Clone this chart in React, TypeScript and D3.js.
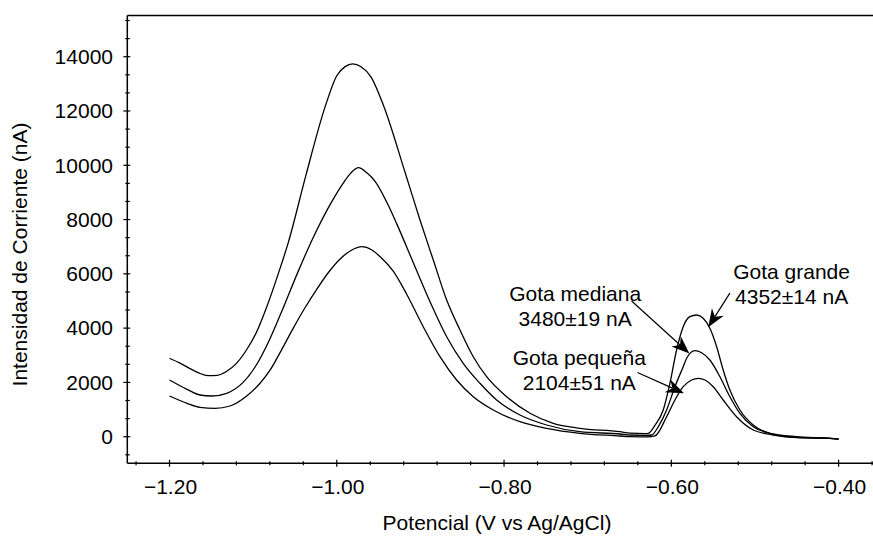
import React, { useEffect, useRef } from 'react';
import * as d3 from 'd3';

// Gota grande
const potGrande = [-1.2, -1.188, -1.176, -1.165, -1.154, -1.143, -1.132, -1.12, -1.108, -1.096, -1.084, -1.07, -1.058, -1.037, -1.014, -1.0, -0.99, -0.981, -0.971, -0.959, -0.9436, -0.918, -0.9005, -0.8846, -0.8686, -0.8527, -0.8368, -0.8208, -0.7969, -0.769, -0.7412, -0.7093, -0.6614, -0.6494, -0.6315, -0.6276, -0.6196, -0.6097, -0.6017, -0.5937, -0.5858, -0.5778, -0.5698, -0.5619, -0.5539, -0.5458, -0.538, -0.53, -0.518, -0.5021, -0.4821, -0.4502, -0.4104, -0.4];
const corrGrande = [2890, 2720, 2520, 2350, 2250, 2260, 2400, 2700, 3194, 3850, 4760, 6000, 7150, 9620, 12150, 13300, 13635, 13732, 13630, 13250, 12159, 9705, 7984, 6510, 5036, 3931, 2947, 2211, 1474, 862, 494, 309, 184, 130, 112, 125, 420, 984, 1967, 3194, 4053, 4421, 4484, 4362, 3994, 3316, 2457, 1721, 984, 431, 125, 0, -59, -90];

// Gota mediana
const potMediana = [-1.2, -1.179, -1.1635, -1.1496, -1.1316, -1.112, -1.096, -1.08, -1.066, -1.046, -1.028, -1.008, -0.991, -0.983, -0.974, -0.964, -0.954, -0.938, -0.9284, -0.9086, -0.8886, -0.8686, -0.8488, -0.8288, -0.8089, -0.781, -0.7491, -0.7093, -0.6614, -0.6494, -0.63, -0.6235, -0.615, -0.6056, -0.5957, -0.5858, -0.5817, -0.5718, -0.5638, -0.5539, -0.5419, -0.53, -0.518, -0.5021, -0.4821, -0.4502, -0.4104, -0.4];
const corrMediana = [2090, 1746, 1536, 1500, 1600, 2000, 2650, 3600, 4600, 6100, 7350, 8550, 9400, 9720, 9912, 9720, 9400, 8500, 7850, 6420, 4980, 3684, 2704, 1967, 1352, 799, 431, 184, 100, 63, 45, 63, 400, 984, 1842, 2579, 2888, 3168, 3095, 2826, 2211, 1474, 862, 368, 125, -22, -59, -90];

// Gota pequeña
const potPequena = [-1.2, -1.179, -1.1635, -1.1456, -1.1277, -1.1077, -1.092, -1.08, -1.066, -1.052, -1.038, -1.024, -1.01, -0.996, -0.983, -0.97, -0.958, -0.9484, -0.9325, -0.9164, -0.8966, -0.8766, -0.8567, -0.8368, -0.8129, -0.781, -0.7491, -0.7093, -0.6614, -0.6494, -0.628, -0.6196, -0.6056, -0.5957, -0.5858, -0.5757, -0.5678, -0.5598, -0.5499, -0.538, -0.522, -0.5021, -0.4782, -0.4502, -0.4104, -0.4];
const corrPequena = [1500, 1230, 1083, 1046, 1131, 1500, 1960, 2440, 3200, 4000, 4750, 5430, 6050, 6550, 6860, 7000, 6880, 6640, 6100, 5250, 4053, 2947, 2089, 1474, 984, 553, 309, 125, 26, 0, -10, 26, 737, 1352, 1842, 2089, 2152, 2089, 1842, 1352, 737, 247, 63, -37, -59, -90];

const xTicks = [-1.2, -1.0, -0.8, -0.6, -0.4];
const yTicks = [0, 2000, 4000, 6000, 8000, 10000, 12000, 14000];

const etiquetas = [
  ['Gota grande', '4352±14 nA'],
  ['Gota mediana', '3480±19 nA'],
  ['Gota pequeña', '2104±51 nA'],
];
const etiquetaPos = [[-0.4562, 5799], [-0.715, 5000], [-0.71, 2642]];
const flechaDesde = [[-0.53, 5287], [-0.6475, 5000], [-0.6405, 2365]];
const flechaHasta = [[-0.5559, 4030], [-0.5784, 3065], [-0.5849, 1599]];

const W = 873;
const H = 544;
const left = 127.3;
const right = 873;
const top = 15.5;
const bottom = 463.3;
const font = 'Liberation Sans, Arial, sans-serif';

export default function App() {
  const ref = useRef<SVGSVGElement>(null);

  useEffect(() => {
    document.body.style.margin = '0';
    const svg = d3.select(ref.current);
    svg.selectAll('*').remove();

    const x = d3.scaleLinear().domain([-1.2, -0.4]).range([169.5, 838.6]);
    const y = d3.scaleLinear().domain([0, 14000]).range([436.7, 56.7]);

    // frame
    svg.append('line').attr('x1', left).attr('x2', right).attr('y1', top).attr('y2', top)
      .attr('stroke', '#000').attr('stroke-width', 1.5);
    svg.append('line').attr('x1', left).attr('x2', left).attr('y1', top).attr('y2', bottom)
      .attr('stroke', '#000').attr('stroke-width', 1.5);
    svg.append('line').attr('x1', left).attr('x2', right).attr('y1', bottom).attr('y2', bottom)
      .attr('stroke', '#000').attr('stroke-width', 1.5);

    // y ticks
    const yStep = 2000 / 3;
    const yMinor = d3.range(-1, 24).map((k) => k * yStep).filter((v) => y(v) > top && y(v) < bottom);
    svg.append('g').selectAll('line').data(yMinor).enter().append('line')
      .attr('x1', (d) => (Math.round(d / yStep) % 3 === 0 ? left - 4 : left - 2))
      .attr('x2', (d) => (Math.round(d / yStep) % 3 === 0 ? left + 3 : left + 2.5))
      .attr('y1', (d) => y(d)).attr('y2', (d) => y(d))
      .attr('stroke', '#000').attr('stroke-width', 1.2);
    svg.append('g').selectAll('text').data(yTicks).enter().append('text')
      .attr('x', 113).attr('y', (d) => y(d)).attr('dy', '0.35em')
      .attr('text-anchor', 'end').attr('font-family', font).attr('font-size', 21)
      .text((d) => String(d));

    // x ticks
    const xMinor = d3.range(-31, -8).map((k) => k * 0.04);
    svg.append('g').selectAll('line').data(xMinor).enter().append('line')
      .attr('x1', (d) => x(d)).attr('x2', (d) => x(d))
      .attr('y1', (d) => (Math.round(d / 0.04) % 5 === 0 ? bottom - 3.5 : bottom - 2))
      .attr('y2', (d) => (Math.round(d / 0.04) % 5 === 0 ? bottom + 3.5 : bottom + 2))
      .attr('stroke', '#000').attr('stroke-width', 1.2);
    svg.append('g').selectAll('text').data(xTicks).enter().append('text')
      .attr('x', (d) => x(d) + 1).attr('y', 493.5)
      .attr('text-anchor', 'middle').attr('font-family', font).attr('font-size', 21)
      .text((d) => d3.format('.2f')(d));

    // axis titles
    svg.append('text').attr('x', 497).attr('y', 530).attr('text-anchor', 'middle')
      .attr('font-family', font).attr('font-size', 21).text('Potencial (V vs Ag/AgCl)');
    svg.append('text').attr('transform', 'translate(26.7,254.5) rotate(-90)').attr('text-anchor', 'middle')
      .attr('font-family', font).attr('font-size', 21).text('Intensidad de Corriente (nA)');

    // curves
    const line = d3.line<[number, number]>()
      .x((d) => x(d[0])).y((d) => y(d[1]))
      .curve(d3.curveMonotoneX);
    const series = [
      d3.zip(potGrande, corrGrande),
      d3.zip(potMediana, corrMediana),
      d3.zip(potPequena, corrPequena),
    ];
    svg.append('g').selectAll('path').data(series).enter().append('path')
      .attr('d', (d) => line(d as [number, number][]))
      .attr('fill', 'none').attr('stroke', '#000').attr('stroke-width', 1.3);

    // labels
    etiquetas.forEach((lines, i) => {
      lines.forEach((t, j) => {
        svg.append('text')
          .attr('x', x(etiquetaPos[i][0])).attr('y', y(etiquetaPos[i][1]) + j * 25)
          .attr('text-anchor', 'middle').attr('font-family', font).attr('font-size', 21)
          .text(t);
      });
    });

    // arrows
    flechaDesde.forEach((from, i) => {
      const sx = x(from[0]);
      const sy = y(from[1]);
      const tx = x(flechaHasta[i][0]);
      const ty = y(flechaHasta[i][1]);
      const len = Math.hypot(tx - sx, ty - sy);
      const ux = (tx - sx) / len;
      const uy = (ty - sy) / len;
      const nx = -uy;
      const ny = ux;
      const L = 18;
      const hw = 7;
      const bx = tx - ux * L;
      const by = ty - uy * L;
      const kx = tx - ux * L * 0.7;
      const ky = ty - uy * L * 0.7;
      svg.append('line').attr('x1', sx).attr('y1', sy).attr('x2', kx).attr('y2', ky)
        .attr('stroke', '#000').attr('stroke-width', 1.2);
      svg.append('path')
        .attr('d', `M${tx},${ty}L${bx + nx * hw},${by + ny * hw}L${kx},${ky}L${bx - nx * hw},${by - ny * hw}Z`)
        .attr('fill', '#000');
    });
  }, []);

  return <svg ref={ref} width={W} height={H} style={{ display: 'block', background: '#fff' }} />;
}
